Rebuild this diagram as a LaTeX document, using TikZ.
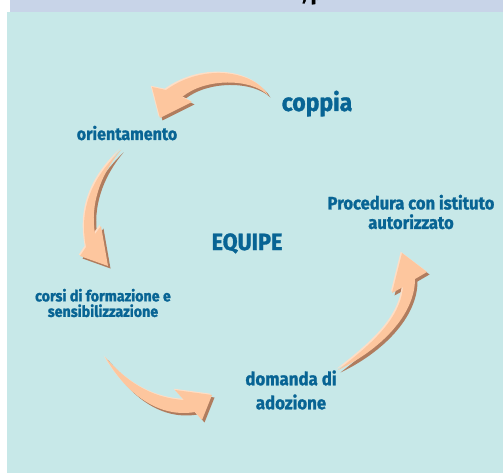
\documentclass[tikz,border=0pt]{standalone}
\usepackage{fontspec}
\newfontfamily\lab[FakeStretch=0.92,FakeBold=1.2]{Fira Sans}
\definecolor{bgcyan}{RGB}{199,232,232}
\definecolor{band}{RGB}{200,212,232}
\definecolor{txtblue}{RGB}{8,100,148}
\definecolor{arrmainc}{RGB}{253,198,158}
\definecolor{arrshadowc}{RGB}{176,124,94}
\definecolor{arrlightc}{RGB}{254,222,198}
\newcommand\fancyarrow[1]{%
  \fill[arrshadowc,shift={(2.5,2.5)}] #1;
  \fill[arrlightc,shift={(-1.3,-1.3)}] #1;
  \fill[arrmainc] #1;}
\tikzset{
  lbl/.style={text=txtblue,font=\lab\bfseries,inner sep=0pt,align=center},
}
\begin{document}
\begin{tikzpicture}[x=1pt,y=-1pt]
\useasboundingbox (0,0) rectangle (503,473);
\fill[white] (0,0) rectangle (503,473);
\fill[band] (10,0) rectangle (503,12);
\fill[bgcyan] (7,12) rectangle (503,473);
\begin{scope}
\clip (10,0) rectangle (503,12);
\node[anchor=base west,inner sep=0pt,font=\lab\bfseries\fontsize{22}{24}\selectfont] (title) at (302,-0.5) {,\,p};
\end{scope}
% arrows
\fancyarrow{(268,95) .. controls (255,72) and (205,62) .. (166,90) -- (152,87) -- (160,118) -- (192,102) -- (182,97) .. controls (205,78) and (250,78) .. cycle}
\fancyarrow{(121,150) .. controls (95,175) and (78,205) .. (86,247) -- (80,256) -- (108,266) -- (101,226) -- (95,234) .. controls (90,205) and (100,175) .. cycle}
\fancyarrow{(105,357) .. controls (125,380) and (150,398) .. (184,400) -- (175,390) -- (212,395) -- (202,420) -- (195,412) .. controls (160,418) and (128,396) .. cycle}
\fancyarrow{(338,370) .. controls (370,345) and (400,320) .. (403,287) -- (392,293) -- (402,253) -- (427,272) -- (415,279) .. controls (415,315) and (380,350) .. cycle}
% labels
\node[lbl,anchor=base,font=\lab\bfseries\fontsize{25}{27}\selectfont] (coppia) at (317,111) {coppia};
\node[lbl,anchor=base,font=\lab\bfseries\fontsize{17.5}{19}\selectfont] (orient) at (127,140) {orientamento};
\node[lbl,anchor=base,font=\lab\bfseries\fontsize{23.5}{26}\selectfont] (equipe) at (247,250) {EQUIPE};
\node[lbl,font=\lab\bfseries\fontsize{18}{19.5}\selectfont] (proc) at (411,212) {Procedura con istituto\\autorizzato};
\node[lbl,font=\lab\bfseries\fontsize{15.5}{15.5}\selectfont] (corsi) at (103,303) {corsi di formazione e\\sensibilizzazione};
\node[lbl,font=\lab\bfseries\fontsize{18.3}{24}\selectfont] (domanda) at (291,390) {domanda di\\adozione};
\end{tikzpicture}
\end{document}
